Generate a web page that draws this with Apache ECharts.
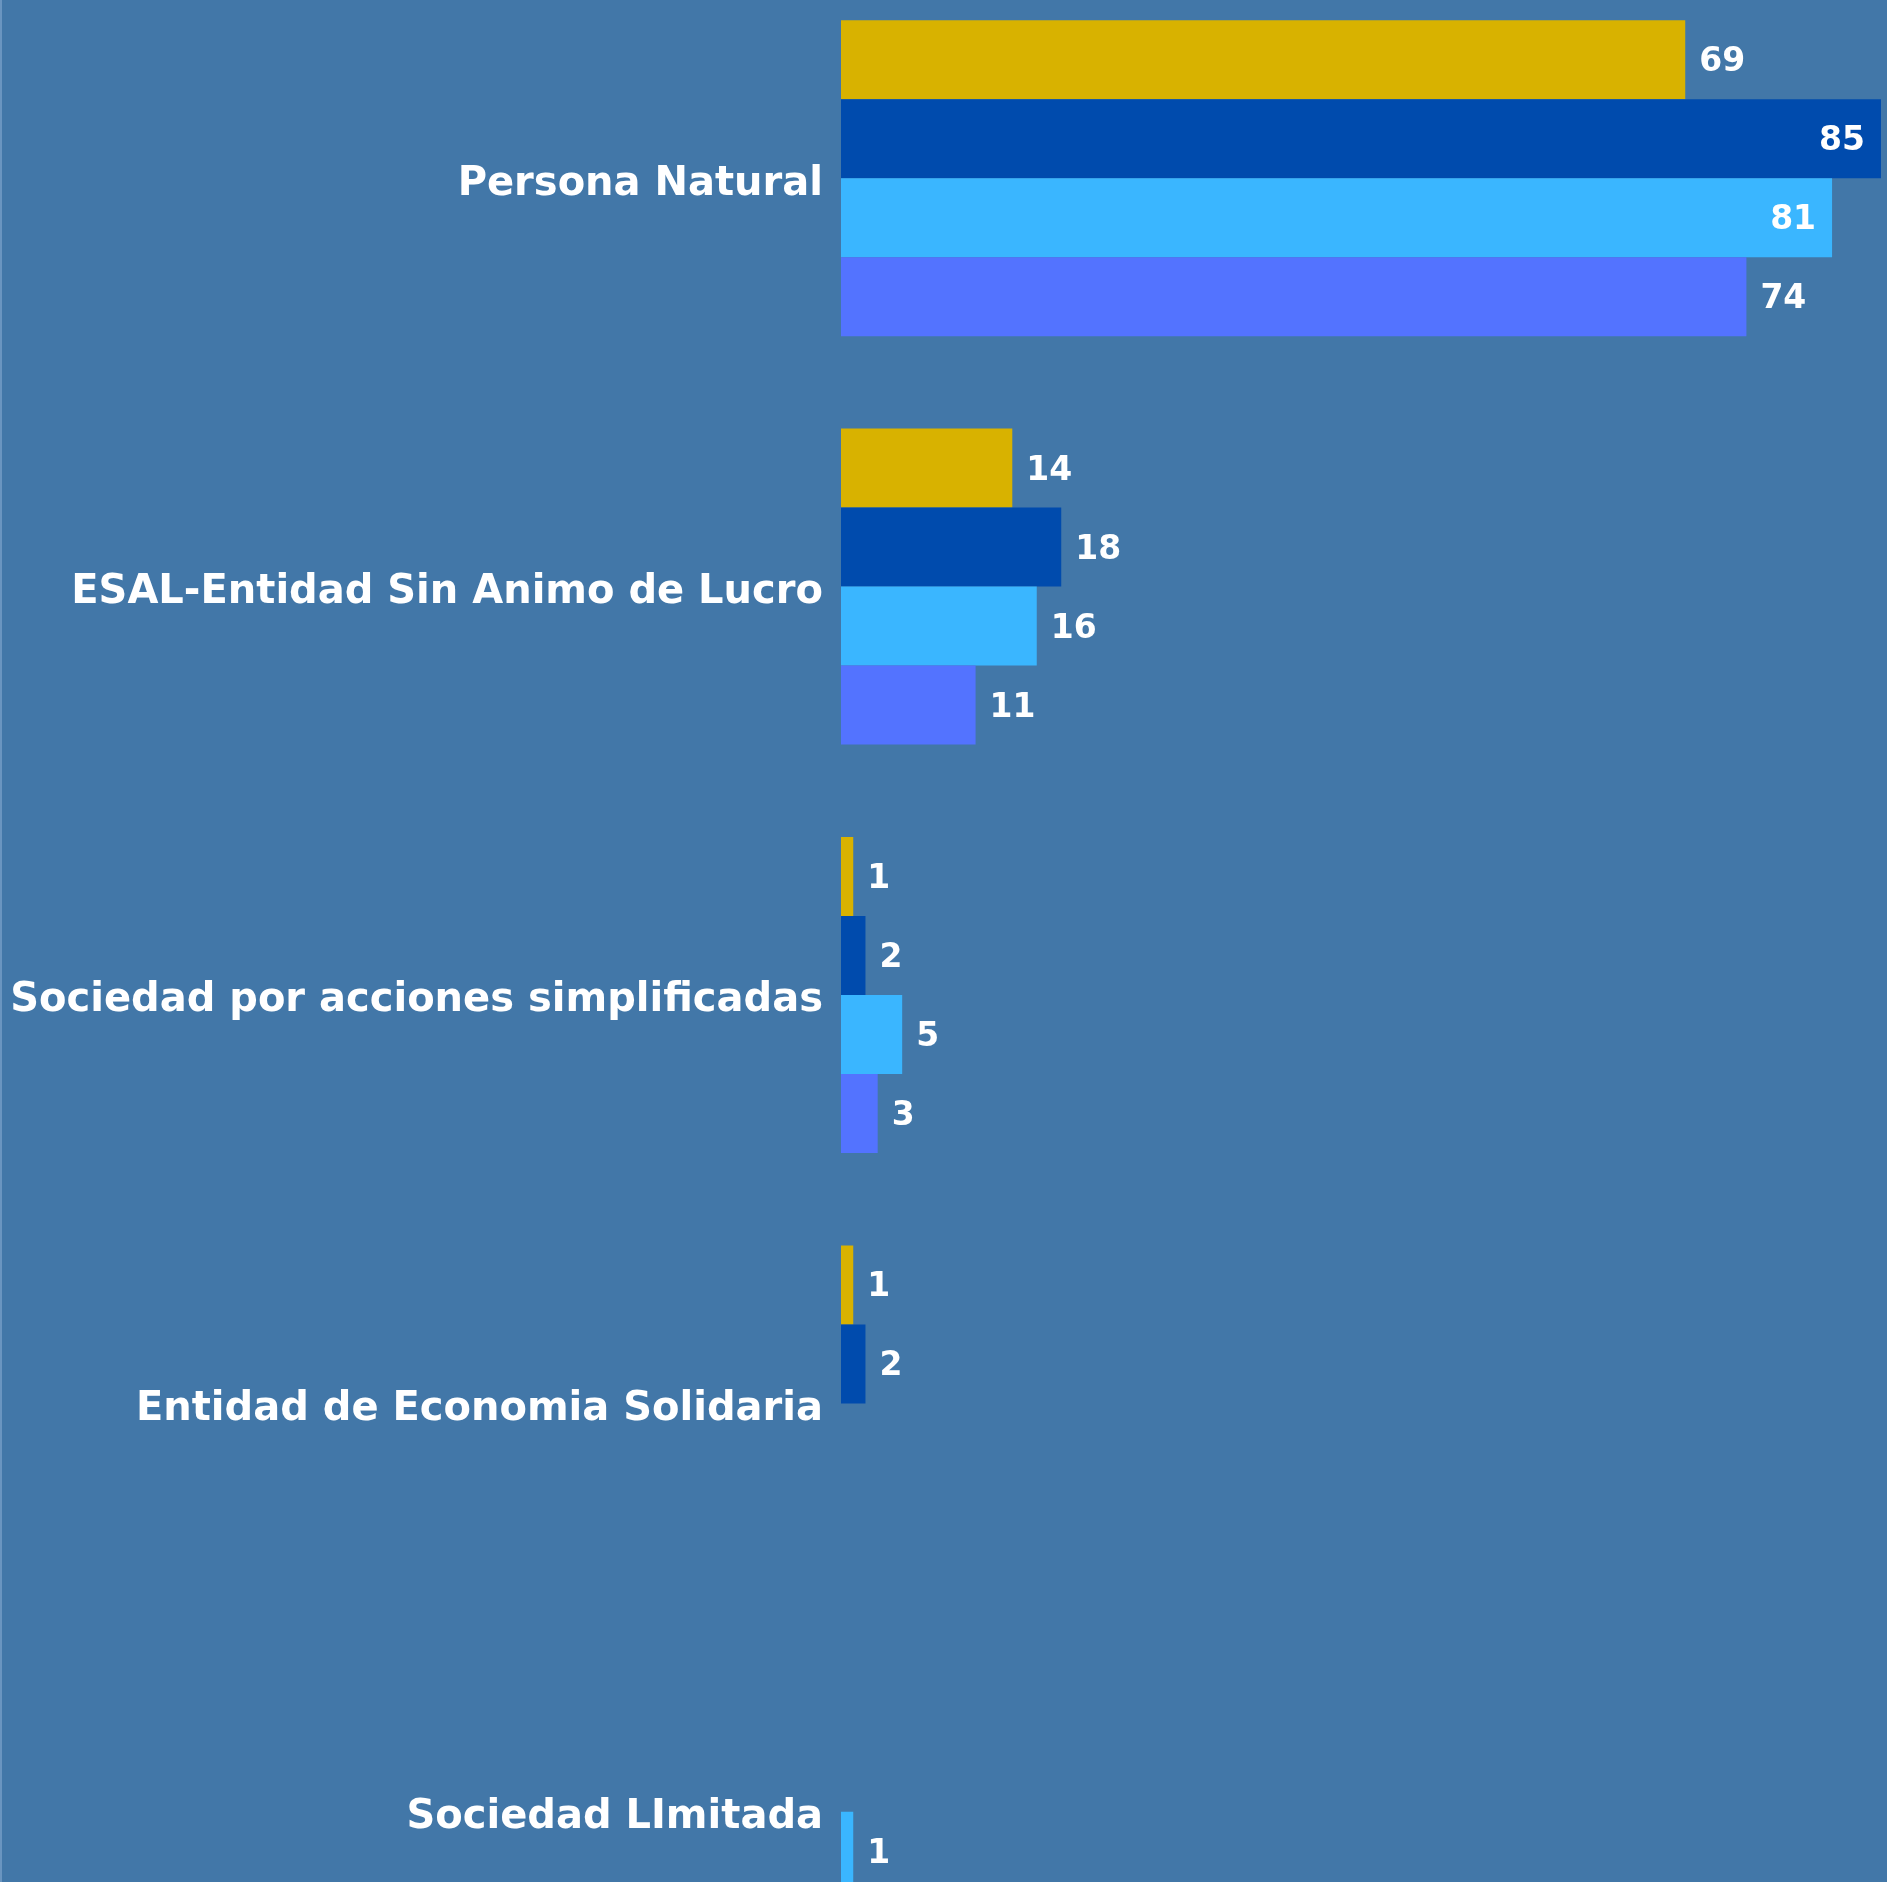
<!DOCTYPE html>
<html>
<head>
<meta charset="utf-8">
<script src="https://cdn.jsdelivr.net/npm/echarts@6/dist/echarts.min.js"></script>
<style>
  html, body { margin: 0; padding: 0; background: #4277a8; overflow: hidden; }
  body { position: relative; width: 1887px; height: 1882px; }
  /* la gráfica original sigue por debajo del borde inferior */
  #chart { position: absolute; left: 0; top: -26px; width: 1887px; height: 2042px; }
  .edge { position: absolute; left: 0; top: 0; width: 2px; height: 1882px; background: #6a95c0; }
</style>
</head>
<body>
<div id="chart"></div>
<div class="edge"></div>
<script>
// categorías (de arriba hacia abajo)
const categories = [
  'Persona Natural',
  'ESAL-Entidad Sin Animo de Lucro',
  'Sociedad por acciones simplificadas',
  'Entidad de Economia Solidaria',
  'Sociedad LImitada'
];
const seriesNames = ['Serie 1', 'Serie 2', 'Serie 3', 'Serie 4'];
const serie1 = [69, 14, 1, 1, null];
const serie2 = [85, 18, 2, 2, null];
const serie3 = [81, 16, 5, null, 1];
const serie4 = [74, 11, 3, null, null];
const colors = ['#d8b200', '#004bad', '#3ab6ff', '#5373ff'];

const chart = echarts.init(document.getElementById('chart'));

// etiquetas dentro de la barra cuando no caben a la derecha
const toItems = (values) =>
  values.map((v) =>
    v !== null && v >= 80
      ? { value: v, label: { position: 'insideRight', distance: 16 } }
      : v
  );

const makeSeries = (name, values, color) => ({
  name,
  type: 'bar',
  data: toItems(values),
  barWidth: 79,
  barGap: '0%',
  itemStyle: { color },
  label: {
    show: true,
    position: 'right',
    distance: 14,
    offset: [0, 3],
    color: '#ffffff',
    fontFamily: 'DejaVu Sans',
    fontWeight: 'bold',
    fontSize: 33
  },
  animation: false
});

const option = {
  backgroundColor: '#4277a8',
  grid: {
    left: 841,
    right: 6,
    top: 0,
    bottom: 0
  },
  xAxis: {
    type: 'value',
    min: 0,
    max: 85,
    show: false
  },
  yAxis: {
    type: 'category',
    inverse: true,
    data: categories,
    axisLine: { show: false },
    axisTick: { show: false },
    axisLabel: {
      margin: 18,
      formatter: (v) => '{c|' + v + '}',
      rich: {
        c: {
          color: '#ffffff',
          fontFamily: 'DejaVu Sans',
          fontWeight: 'bold',
          fontSize: 40,
          padding: [12, 0, 0, 0]
        }
      }
    }
  },
  series: [
    makeSeries(seriesNames[0], serie1, colors[0]),
    makeSeries(seriesNames[1], serie2, colors[1]),
    makeSeries(seriesNames[2], serie3, colors[2]),
    makeSeries(seriesNames[3], serie4, colors[3])
  ]
};

chart.setOption(option);
</script>
</body>
</html>
